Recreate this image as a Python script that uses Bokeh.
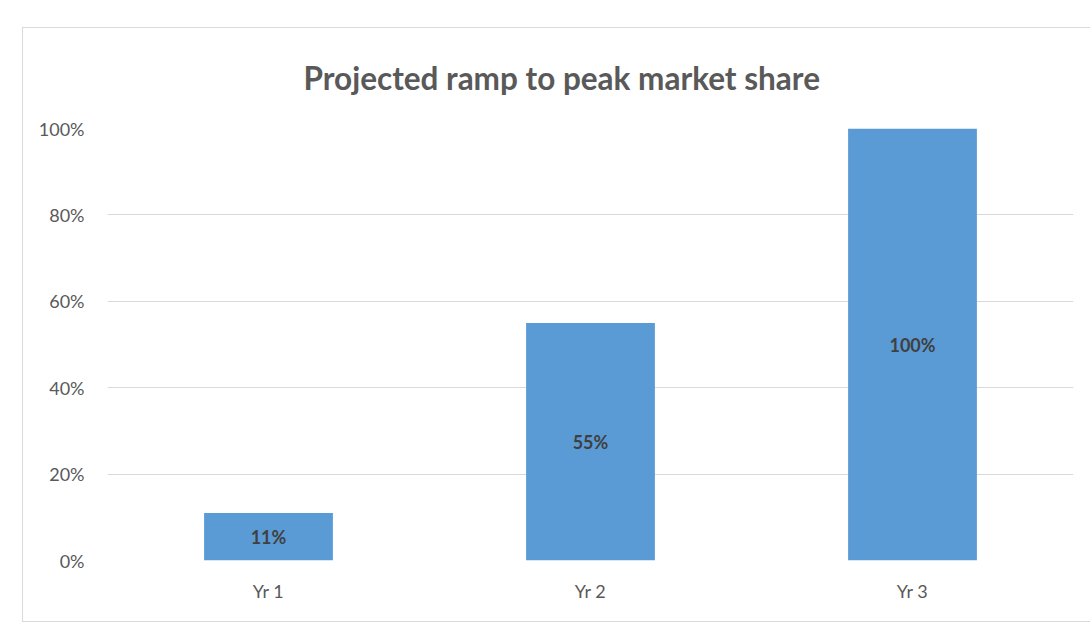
from bokeh.plotting import figure
from bokeh.models import ColumnDataSource, FixedTicker, NumeralTickFormatter, Range1d, FactorRange
from bokeh.core.properties import value
from bokeh.embed import file_html
from bokeh.resources import INLINE

categories = ["Yr 1", "Yr 2", "Yr 3"]
shares = [0.11, 0.55, 1.00]
y_ticks = [0, 0.2, 0.4, 0.6, 0.8, 1.0]
title_text = "Projected ramp to peak market share"

labels = [f"{round(v * 100)}%" for v in shares]
mid = [v / 2 for v in shares]
src = ColumnDataSource(dict(cat=categories, val=shares, lab=labels, mid=mid))

p = figure(
    x_range=FactorRange(*categories, range_padding=0),
    y_range=Range1d(0, 1.0),
    width=1068, height=595,
    output_backend="svg", toolbar_location=None,
    min_border_left=84, min_border_right=18, min_border_top=100, min_border_bottom=63,
    margin=(27, 0, 0, 22),
    styles={"border-top": "1px solid #d9d9d9", "border-left": "1px solid #d9d9d9",
            "border-bottom": "1px solid #d9d9d9"},
)
p.x_range.range_padding = 0

p.title.text = title_text
p.title.align = "left"
p.title.offset = 196
p.title.vertical_align = "top"
p.title.text_font = "Lato"
p.title.text_font_size = "31.5px"
p.title.text_font_style = "bold"
p.title.text_color = "#595959"
p.title.standoff = 59

p.vbar(x="cat", top="val", width=0.4, source=src, fill_color="#5b9bd5", line_color=None)
p.text(x="cat", y="mid", text="lab", source=src, text_align="center", text_baseline="middle",
       text_font=value("Lato"), text_font_size="18px", text_font_style="bold", text_color="#404040")

p.outline_line_color = None
p.background_fill_color = "white"
p.border_fill_color = "white"
p.xgrid.grid_line_color = None
p.ygrid.grid_line_color = "#d9d9d9"
p.ygrid.grid_line_width = 1

p.yaxis.ticker = FixedTicker(ticks=y_ticks)
p.yaxis.formatter = NumeralTickFormatter(format="0%")
for ax in (p.xaxis, p.yaxis):
    ax.axis_line_color = None
    ax.major_tick_line_color = None
    ax.minor_tick_line_color = None
    ax.major_label_text_font = "Lato"
    ax.major_label_text_font_size = "18px"
    ax.major_label_text_color = "#595959"
p.yaxis.major_label_standoff = 17
p.xaxis.major_label_standoff = 13

open("out.html", "w").write(file_html(p, INLINE))
